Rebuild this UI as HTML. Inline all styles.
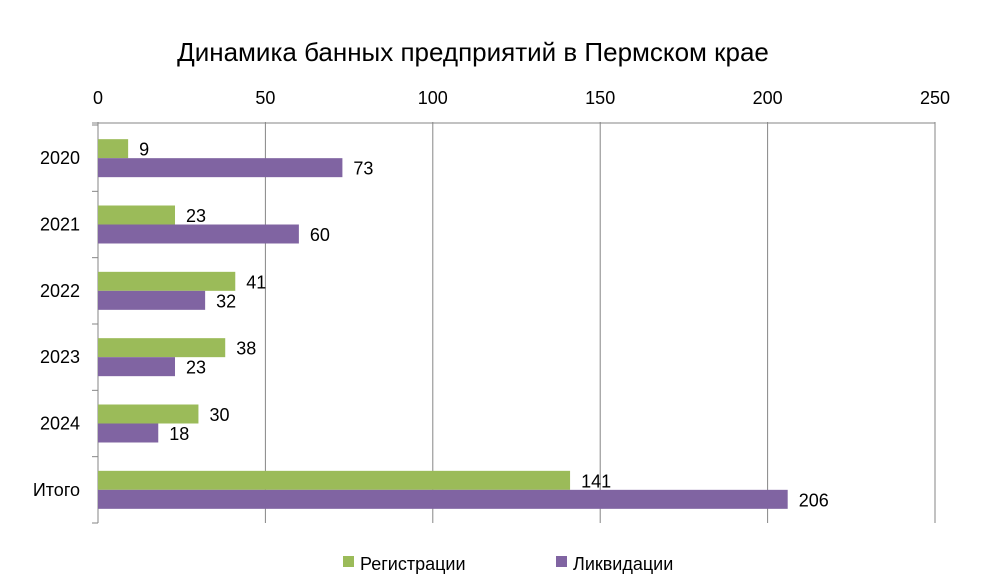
<!DOCTYPE html>
<html><head><meta charset="utf-8"><style>
body{margin:0;background:#fff;}
svg{display:block;font-family:"Liberation Sans","DejaVu Sans",sans-serif;}
</style></head><body>
<svg id="c" width="1000" height="577" viewBox="0 0 1000 577">
<text x="473" y="61" text-anchor="middle" font-size="26" fill="#000">Динамика банных предприятий в Пермском крае</text>
<g id="grid"></g><g id="bars"></g>
<g>
<rect x="343" y="556" width="11" height="11" fill="#9bbb59"/>
<text x="360" y="570" font-size="18">Регистрации</text>
<rect x="556" y="556" width="11" height="11" fill="#8064a2"/>
<text x="573" y="570" font-size="18">Ликвидации</text>
</g>
</svg>
<script>
const categories=["2020","2021","2022","2023","2024","Итого"];
const registrations=[9,23,41,38,30,141];
const liquidations=[73,60,32,23,18,206];
const ticks=[0,50,100,150,200,250];
const NS="http://www.w3.org/2000/svg";
const x0=98,x1=935,yTop=125,yBot=523,max=250;
const xs=v=>x0+(x1-x0)*v/max;
const band=(yBot-yTop)/categories.length;
function mk(t,a,p){const e=document.createElementNS(NS,t);for(const k in a)e.setAttribute(k,a[k]);p.appendChild(e);return e;}
const g=document.getElementById('grid'),b=document.getElementById('bars');
ticks.forEach(t=>{
 const l=mk('line',{x1:xs(t),x2:xs(t),y1:yTop-3,y2:yBot,stroke:'#868686','stroke-width':1},g);
 
 
 const tx=mk('text',{x:xs(t),y:104,'text-anchor':'middle','font-size':18},g);tx.textContent=t;
 
 
});
const ax=mk('line',{x1:92,x2:x1,y1:yTop-2,y2:yTop-2,stroke:'#868686'},g);


for(let i=0;i<=categories.length;i++){
 const y=yTop+band*i;
 const t=mk('line',{x1:92,x2:x0,y1:y,y2:y,stroke:'#868686'},g);
 
 
}
categories.forEach((c,i)=>{
 const yc=yTop+band*i+band/2;const h=19;
 const lab=mk('text',{x:80,y:yc+6,'text-anchor':'end','font-size':18},b);lab.textContent=c;
 
 
 [[registrations[i],'#9bbb59',yc-h,'bar-registration'],[liquidations[i],'#8064a2',yc,'bar-liquidation']].forEach(([v,col,y,n])=>{
  const r=mk('rect',{x:x0,y:y,width:xs(v)-x0,height:h,fill:col},b);
  
  
  const t=mk('text',{x:xs(v)+11,y:y+h/2+7,'font-size':18},b);t.textContent=v;
  
  
 });
});
</script>
</body></html>
